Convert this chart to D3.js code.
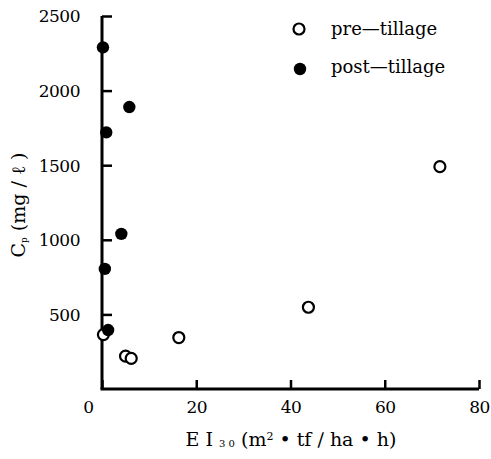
<!DOCTYPE html>
<html>
<head>
<meta charset="utf-8">
<script src="https://cdn.jsdelivr.net/npm/d3@7"></script>
<style>
  body { margin: 0; background: #fff; }
  text { fill: #000; }
</style>
</head>
<body>
<div id="chart"></div>
<script>
// values
var preX  = [0.3, 5.0, 6.2, 16.3, 43.8, 71.7];
var preY  = [365, 220, 205, 345, 548, 1490];
var postX = [0.2, 5.8, 0.9, 4.1, 0.6, 1.3];
var postY = [2290, 1890, 1720, 1040, 805, 395];
var xTicks = [0, 20, 40, 60, 80];
var yTicks = [500, 1000, 1500, 2000, 2500];
var legendNames = ["pre\u2014tillage", "post\u2014tillage"];

var W = 491, H = 459;
var svg = d3.select("#chart").append("svg")
  .attr("width", W).attr("height", H);

var x = d3.scaleLinear().domain([0, 80]).range([102, 479]);
var y = d3.scaleLinear().domain([0, 2500]).range([389, 16]);

var txtFont = "DejaVu Serif, serif";

// x axis, ticks point up
var gx = svg.append("g")
  .attr("transform", "translate(0," + y(0) + ")")
  .call(d3.axisBottom(x).tickValues(xTicks).tickFormat(d3.format("d"))
    .tickSizeInner(-9).tickSizeOuter(0).tickPadding(20));
// y axis, ticks point right
var gy = svg.append("g")
  .attr("transform", "translate(" + x(0) + ",0)")
  .call(d3.axisLeft(y).tickValues(yTicks).tickFormat(d3.format("d"))
    .tickSizeInner(-10).tickSizeOuter(0).tickPadding(22));

[gx, gy].forEach(function(g) {
  g.attr("font-family", null).attr("font-size", null);
  g.select(".domain").attr("stroke", "#000").attr("stroke-width", 3);
  g.selectAll(".tick line").attr("stroke", "#000").attr("stroke-width", 2.5);
  g.selectAll(".tick text").style("font-family", txtFont).style("font-size", "17px")
    .style("letter-spacing", "-0.5px");
});
gx.select(".domain").attr("d", "M" + (x(0) - 1.5) + ",0H" + x(80));
gy.select(".domain").attr("d", "M0," + y(0) + "V" + y(2500));
gx.selectAll(".tick text").attr("dy", "0.25em");
gx.selectAll(".tick text").filter(function(d) { return d === 0; }).attr("dx", -14);
gy.selectAll(".tick text").attr("dy", "0.35em");

// points
svg.append("g").selectAll("circle").data(preX).join("circle")
  .attr("cx", function(d) { return x(d); })
  .attr("cy", function(d, i) { return y(preY[i]); })
  .attr("r", 5.5)
  .attr("fill", "#fff").attr("stroke", "#000").attr("stroke-width", 2.2);

svg.append("g").selectAll("circle").data(postX).join("circle")
  .attr("cx", function(d) { return x(d); })
  .attr("cy", function(d, i) { return y(postY[i]); })
  .attr("r", 6.2)
  .attr("fill", "#000");

// legend
var lg = svg.append("g");
lg.append("circle").attr("cx", 299).attr("cy", 29).attr("r", 5.5)
  .attr("fill", "#fff").attr("stroke", "#000").attr("stroke-width", 2.2);
lg.append("circle").attr("cx", 300).attr("cy", 69).attr("r", 6.2).attr("fill", "#000");
lg.selectAll("text").data(legendNames).join("text")
  .attr("x", 331)
  .attr("y", function(d, i) { return 35 + i * 38; })
  .style("font-family", txtFont).style("font-size", "18px")
  .text(function(d) { return d; });

// axis titles
var xt = svg.append("text")
  .attr("x", 291).attr("y", 446).attr("text-anchor", "middle")
  .style("font-family", txtFont).style("font-size", "19px");
xt.append("tspan").text("E  I ");
xt.append("tspan").style("font-size", "10px").attr("dy", 1).text("3 0");
xt.append("tspan").attr("dy", -1).text("  (m");
xt.append("tspan").style("font-size", "11px").attr("dy", -6).text("2");
xt.append("tspan").attr("dy", 6).text(" \u2022 tf \u2215 ha \u2022 h)");

var yt = svg.append("text")
  .attr("transform", "translate(25,205) rotate(-90)")
  .attr("text-anchor", "middle")
  .style("font-family", txtFont).style("font-size", "19px");
yt.append("tspan").text("C");
yt.append("tspan").style("font-size", "9px").attr("dy", 2).text("p");
yt.append("tspan").attr("dy", -2).text("  (mg \u2215 \u2113 )");
</script>
</body>
</html>
